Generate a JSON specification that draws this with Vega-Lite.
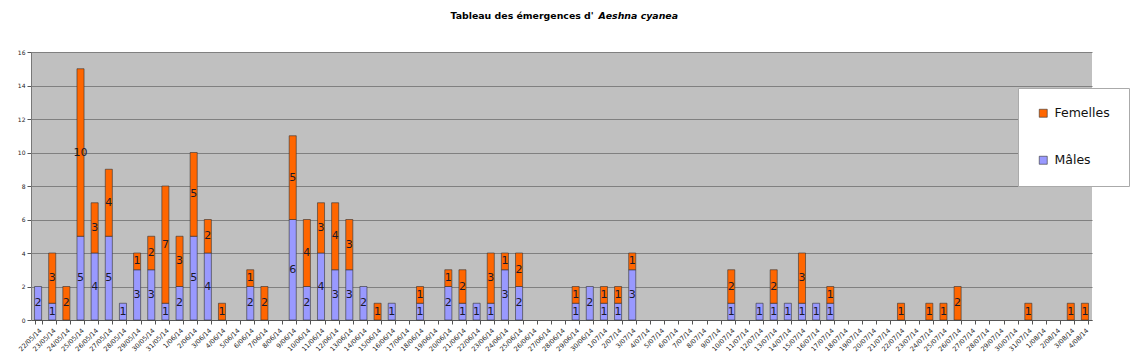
{
  "$schema": "https://vega.github.io/schema/vega-lite/v6.json",
  "width": 1061,
  "height": 268,
  "autosize": {"type": "none"},
  "padding": {"left": 31, "top": 52, "right": 42, "bottom": 34},
  "background": "white",
  "config": {
    "view": {"fill": "#C0C0C0", "stroke": null},
    "font": "DejaVu Sans"
  },
  "data": {
    "values": [
      {"date": "22/05/14", "sexe": "Mâles", "n": 2},
      {"date": "23/05/14", "sexe": "Mâles", "n": 1},
      {"date": "23/05/14", "sexe": "Femelles", "n": 3},
      {"date": "24/05/14", "sexe": "Femelles", "n": 2},
      {"date": "25/05/14", "sexe": "Mâles", "n": 5},
      {"date": "25/05/14", "sexe": "Femelles", "n": 10},
      {"date": "26/05/14", "sexe": "Mâles", "n": 4},
      {"date": "26/05/14", "sexe": "Femelles", "n": 3},
      {"date": "27/05/14", "sexe": "Mâles", "n": 5},
      {"date": "27/05/14", "sexe": "Femelles", "n": 4},
      {"date": "28/05/14", "sexe": "Mâles", "n": 1},
      {"date": "29/05/14", "sexe": "Mâles", "n": 3},
      {"date": "29/05/14", "sexe": "Femelles", "n": 1},
      {"date": "30/05/14", "sexe": "Mâles", "n": 3},
      {"date": "30/05/14", "sexe": "Femelles", "n": 2},
      {"date": "31/05/14", "sexe": "Mâles", "n": 1},
      {"date": "31/05/14", "sexe": "Femelles", "n": 7},
      {"date": "1/06/14", "sexe": "Mâles", "n": 2},
      {"date": "1/06/14", "sexe": "Femelles", "n": 3},
      {"date": "2/06/14", "sexe": "Mâles", "n": 5},
      {"date": "2/06/14", "sexe": "Femelles", "n": 5},
      {"date": "3/06/14", "sexe": "Mâles", "n": 4},
      {"date": "3/06/14", "sexe": "Femelles", "n": 2},
      {"date": "4/06/14", "sexe": "Femelles", "n": 1},
      {"date": "6/06/14", "sexe": "Mâles", "n": 2},
      {"date": "6/06/14", "sexe": "Femelles", "n": 1},
      {"date": "7/06/14", "sexe": "Femelles", "n": 2},
      {"date": "9/06/14", "sexe": "Mâles", "n": 6},
      {"date": "9/06/14", "sexe": "Femelles", "n": 5},
      {"date": "10/06/14", "sexe": "Mâles", "n": 2},
      {"date": "10/06/14", "sexe": "Femelles", "n": 4},
      {"date": "11/06/14", "sexe": "Mâles", "n": 4},
      {"date": "11/06/14", "sexe": "Femelles", "n": 3},
      {"date": "12/06/14", "sexe": "Mâles", "n": 3},
      {"date": "12/06/14", "sexe": "Femelles", "n": 4},
      {"date": "13/06/14", "sexe": "Mâles", "n": 3},
      {"date": "13/06/14", "sexe": "Femelles", "n": 3},
      {"date": "14/06/14", "sexe": "Mâles", "n": 2},
      {"date": "15/06/14", "sexe": "Femelles", "n": 1},
      {"date": "16/06/14", "sexe": "Mâles", "n": 1},
      {"date": "18/06/14", "sexe": "Mâles", "n": 1},
      {"date": "18/06/14", "sexe": "Femelles", "n": 1},
      {"date": "20/06/14", "sexe": "Mâles", "n": 2},
      {"date": "20/06/14", "sexe": "Femelles", "n": 1},
      {"date": "21/06/14", "sexe": "Mâles", "n": 1},
      {"date": "21/06/14", "sexe": "Femelles", "n": 2},
      {"date": "22/06/14", "sexe": "Mâles", "n": 1},
      {"date": "23/06/14", "sexe": "Mâles", "n": 1},
      {"date": "23/06/14", "sexe": "Femelles", "n": 3},
      {"date": "24/06/14", "sexe": "Mâles", "n": 3},
      {"date": "24/06/14", "sexe": "Femelles", "n": 1},
      {"date": "25/06/14", "sexe": "Mâles", "n": 2},
      {"date": "25/06/14", "sexe": "Femelles", "n": 2},
      {"date": "29/06/14", "sexe": "Mâles", "n": 1},
      {"date": "29/06/14", "sexe": "Femelles", "n": 1},
      {"date": "30/06/14", "sexe": "Mâles", "n": 2},
      {"date": "1/07/14", "sexe": "Mâles", "n": 1},
      {"date": "1/07/14", "sexe": "Femelles", "n": 1},
      {"date": "2/07/14", "sexe": "Mâles", "n": 1},
      {"date": "2/07/14", "sexe": "Femelles", "n": 1},
      {"date": "3/07/14", "sexe": "Mâles", "n": 3},
      {"date": "3/07/14", "sexe": "Femelles", "n": 1},
      {"date": "10/07/14", "sexe": "Mâles", "n": 1},
      {"date": "10/07/14", "sexe": "Femelles", "n": 2},
      {"date": "12/07/14", "sexe": "Mâles", "n": 1},
      {"date": "13/07/14", "sexe": "Mâles", "n": 1},
      {"date": "13/07/14", "sexe": "Femelles", "n": 2},
      {"date": "14/07/14", "sexe": "Mâles", "n": 1},
      {"date": "15/07/14", "sexe": "Mâles", "n": 1},
      {"date": "15/07/14", "sexe": "Femelles", "n": 3},
      {"date": "16/07/14", "sexe": "Mâles", "n": 1},
      {"date": "17/07/14", "sexe": "Mâles", "n": 1},
      {"date": "17/07/14", "sexe": "Femelles", "n": 1},
      {"date": "22/07/14", "sexe": "Femelles", "n": 1},
      {"date": "24/07/14", "sexe": "Femelles", "n": 1},
      {"date": "25/07/14", "sexe": "Femelles", "n": 1},
      {"date": "26/07/14", "sexe": "Femelles", "n": 2},
      {"date": "31/07/14", "sexe": "Femelles", "n": 1},
      {"date": "3/08/14", "sexe": "Femelles", "n": 1},
      {"date": "4/08/14", "sexe": "Femelles", "n": 1}
    ]
  },
  "encoding": {
    "x": {
      "field": "date",
      "type": "ordinal",
      "scale": {
        "domain": ["22/05/14","23/05/14","24/05/14","25/05/14","26/05/14","27/05/14","28/05/14","29/05/14","30/05/14","31/05/14",
          "1/06/14","2/06/14","3/06/14","4/06/14","5/06/14","6/06/14","7/06/14","8/06/14","9/06/14","10/06/14",
          "11/06/14","12/06/14","13/06/14","14/06/14","15/06/14","16/06/14","17/06/14","18/06/14","19/06/14","20/06/14",
          "21/06/14","22/06/14","23/06/14","24/06/14","25/06/14","26/06/14","27/06/14","28/06/14","29/06/14","30/06/14",
          "1/07/14","2/07/14","3/07/14","4/07/14","5/07/14","6/07/14","7/07/14","8/07/14","9/07/14","10/07/14",
          "11/07/14","12/07/14","13/07/14","14/07/14","15/07/14","16/07/14","17/07/14","18/07/14","19/07/14","20/07/14",
          "21/07/14","22/07/14","23/07/14","24/07/14","25/07/14","26/07/14","27/07/14","28/07/14","29/07/14","30/07/14",
          "31/07/14","1/08/14","2/08/14","3/08/14","4/08/14"],
        "paddingInner": 0.5,
        "paddingOuter": 0.25
      },
      "axis": {
        "title": "Tableau des émergences d'",
        "titleAngle": 0,
        "titleX": 419,
        "titleY": -302,
        "titleAlign": "left",
        "titleBaseline": "alphabetic",
        "titleFont": "DejaVu Sans",
        "titleFontSize": 9.4,
        "titleFontWeight": "bold",
        "titleColor": "#000",
        "labelAngle": -45,
        "labelFont": "DejaVu Sans",
        "labelFontSize": 6.5,
        "labelColor": "#222",
        "labelOverlap": false,
        "labelPadding": 3,
        "tickBand": "extent",
        "tickSize": 4,
        "tickColor": "#555",
        "domainColor": "#555",
        "grid": false
      }
    }
  },
  "layer": [
    {
      "mark": {"type": "bar", "stroke": "#333", "strokeWidth": 0.6},
      "encoding": {
        "y": {
          "field": "n",
          "type": "quantitative",
          "stack": "zero",
          "scale": {"domain": [0, 16]},
          "axis": {
            "values": [0, 2, 4, 6, 8, 10, 12, 14, 16],
            "labelOverlap": false,
            "labelFont": "DejaVu Sans",
            "labelFontSize": 6,
            "labelColor": "#222",
            "tickSize": 4,
            "tickColor": "#555",
            "domainColor": "#777",
            "grid": true,
            "gridColor": "#808080",
            "gridWidth": 1,
            "title": "Aeshna cyanea",
            "titleAngle": 0,
            "titleX": 567,
            "titleY": -33.7,
            "titleAlign": "left",
            "titleBaseline": "alphabetic",
            "titleFont": "DejaVu Sans",
            "titleFontSize": 9.4,
            "titleFontWeight": "bold",
            "titleFontStyle": "italic",
            "titleColor": "#000"
          }
        },
        "color": {
          "field": "sexe",
          "type": "nominal",
          "scale": {"domain": ["Femelles", "Mâles"], "range": ["#FF6600", "#9999FF"]},
          "legend": {
            "title": null,
            "orient": "none",
            "legendX": 987,
            "legendY": 36,
            "fillColor": "white",
            "strokeColor": "#aaa",
            "padding": 19,
            "symbolType": "square",
            "symbolSize": 64,
            "symbolStrokeColor": "#333",
            "symbolStrokeWidth": 0.6,
            "labelFont": "DejaVu Sans",
            "labelFontSize": 12.5,
            "labelColor": "#111",
            "labelOffset": 5,
            "rowPadding": 34
          }
        },
        "order": {"field": "sexe", "sort": "descending"}
      }
    },
    {
      "mark": {"type": "text", "font": "DejaVu Sans", "fontSize": 11, "color": "#1a1a2a", "baseline": "middle"},
      "encoding": {
        "y": {
          "field": "n",
          "type": "quantitative",
          "stack": "zero",
          "bandPosition": 0.5,
          "scale": {"domain": [0, 16]},
          "axis": {
            "values": [0, 2, 4, 6, 8, 10, 12, 14, 16],
            "labelOverlap": false,
            "labelFont": "DejaVu Sans",
            "labelFontSize": 6,
            "labelColor": "#222",
            "tickSize": 4,
            "tickColor": "#555",
            "domainColor": "#777",
            "grid": true,
            "gridColor": "#808080",
            "gridWidth": 1,
            "title": "Aeshna cyanea",
            "titleAngle": 0,
            "titleX": 567,
            "titleY": -33.7,
            "titleAlign": "left",
            "titleBaseline": "alphabetic",
            "titleFont": "DejaVu Sans",
            "titleFontSize": 9.4,
            "titleFontWeight": "bold",
            "titleFontStyle": "italic",
            "titleColor": "#000"
          }
        },
        "detail": {"field": "sexe"},
        "order": {"field": "sexe", "sort": "descending"},
        "text": {"field": "n", "type": "quantitative"}
      }
    }
  ]
}
